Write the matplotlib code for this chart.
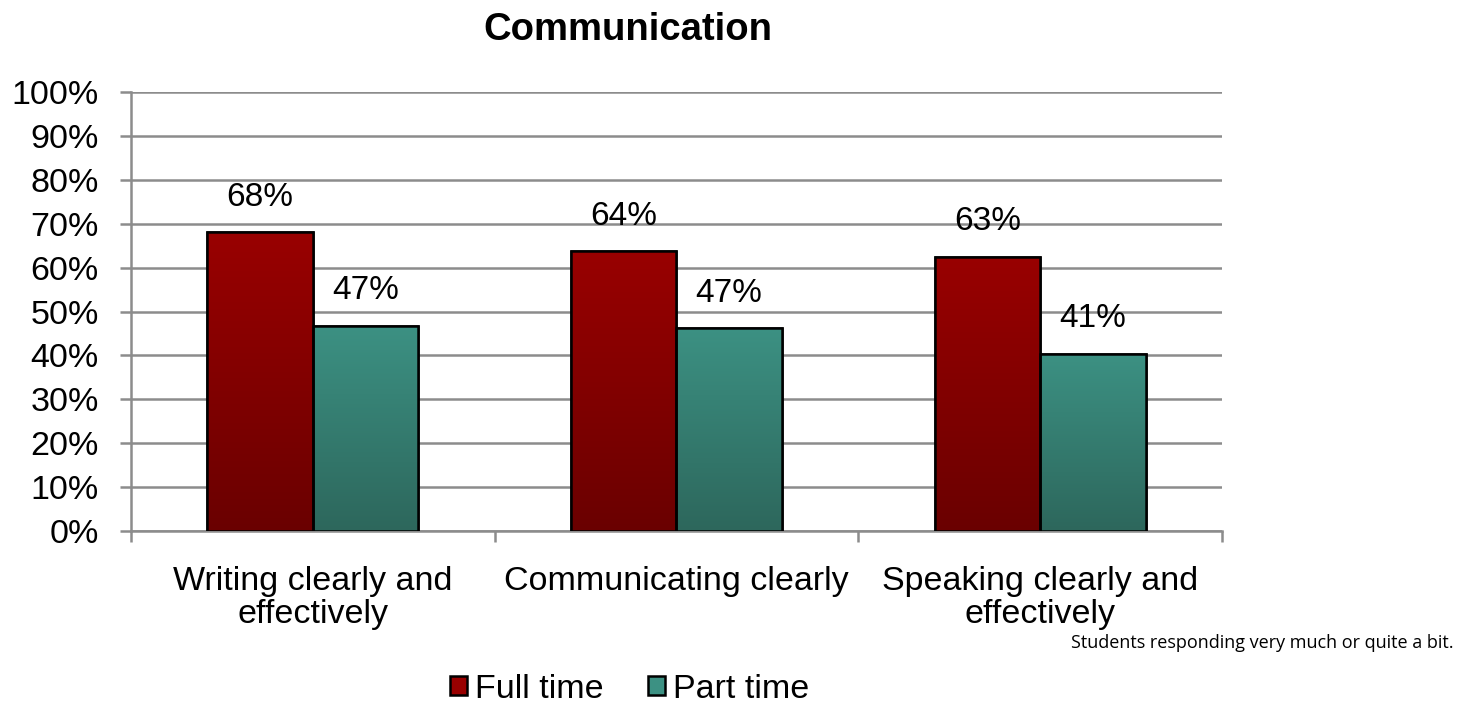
import matplotlib
matplotlib.use("Agg")
import matplotlib.pyplot as plt
import numpy as np
from matplotlib.colors import LinearSegmentedColormap
from matplotlib.patches import Patch

categories = ["Writing clearly and\neffectively", "Communicating clearly", "Speaking clearly and\neffectively"]
series_names = ["Full time", "Part time"]
full_time = [68.1, 63.8, 62.5]
part_time = [46.8, 46.3, 40.4]
full_labels = ["68%", "64%", "63%"]
part_labels = ["47%", "47%", "41%"]
yticks = [0, 10, 20, 30, 40, 50, 60, 70, 80, 90, 100]
ytick_labels = [f"{v}%" for v in yticks]

plt.rcParams['font.family'] = ['Liberation Sans', 'DejaVu Sans']

fig = plt.figure(figsize=(14.71, 7.04), dpi=100)
ax = fig.add_axes([0.089, 0.2457, 0.7417, 0.6236])

x = np.arange(len(categories))
w = 0.29
grads = [("#990000", "#6a0000"), ("#3c9183", "#2d675c")]
series = [full_time, part_time]
labels = [full_labels, part_labels]
for i, (vals, labs, (ctop, cbot)) in enumerate(zip(series, labels, grads)):
    pos = x + (i - 0.5) * w
    bars = ax.bar(pos, vals, width=w, color=ctop, edgecolor="black", linewidth=1.8, zorder=3,
                  label=series_names[i])
    cmap = LinearSegmentedColormap.from_list(f"g{i}", [cbot, ctop])
    for b in bars:
        bx, by = b.get_x(), b.get_y()
        bw, bh = b.get_width(), b.get_height()
        grad = np.linspace(0, 1, 256).reshape(-1, 1)
        im = ax.imshow(grad, extent=[bx, bx + bw, by, by + bh], origin="lower",
                       cmap=cmap, aspect="auto", zorder=3.5)
        im.set_clip_path(b)
        ax.bar(bx + bw / 2, bh, width=bw, fill=False, edgecolor="black", linewidth=1.8, zorder=4)
    for p, v, t in zip(pos, vals, labs):
        ax.annotate(t, (p, v), xytext=(0, 25), textcoords="offset points",
                    ha="center", va="center", fontsize=24, zorder=5)

ax.set_xlim(-0.5, len(categories) - 0.5)
ax.set_ylim(0, 100)
ax.set_yticks(yticks)
ax.set_yticklabels(ytick_labels, fontsize=24.5)
ax.yaxis.grid(True, color="#8c8c8c", linewidth=1.8, zorder=0)
ax.set_axisbelow(True)

ax.set_xticks(x)
ax.set_xticklabels(categories, fontsize=24.5, linespacing=1.1)
ax.tick_params(axis="x", length=0, pad=25)
ax.set_xticks(np.arange(len(categories) + 1) - 0.5, minor=True)
ax.tick_params(axis="x", which="minor", length=8, width=1.8, color="#8c8c8c", direction="out")
ax.tick_params(axis="y", length=8, width=1.8, color="#8c8c8c", direction="out", pad=15)

for s in ["top", "right"]:
    ax.spines[s].set_visible(False)
for s in ["left", "bottom"]:
    ax.spines[s].set_color("#8c8c8c")
    ax.spines[s].set_linewidth(1.8)

fig.text(0.4265, 0.958, "Communication", ha="center", va="center", fontsize=27.5, fontweight="bold")

leg_handles = [Patch(facecolor=grads[0][0], edgecolor="black", linewidth=1.8),
               Patch(facecolor=grads[1][0], edgecolor="black", linewidth=1.8)]
fig.legend(leg_handles, series_names, loc="center", bbox_to_anchor=(0.428, 0.021),
           ncol=2, frameon=False, fontsize=24.5, handlelength=0.5, handleheight=0.5,
           handletextpad=0.25, columnspacing=1.3)

fig.text(0.9885, 0.087, "Students responding very much or quite a bit.", ha="right", va="center",
         fontsize=13, family=["Open Sans", "DejaVu Sans"])

fig.savefig("out.png", dpi=100)
